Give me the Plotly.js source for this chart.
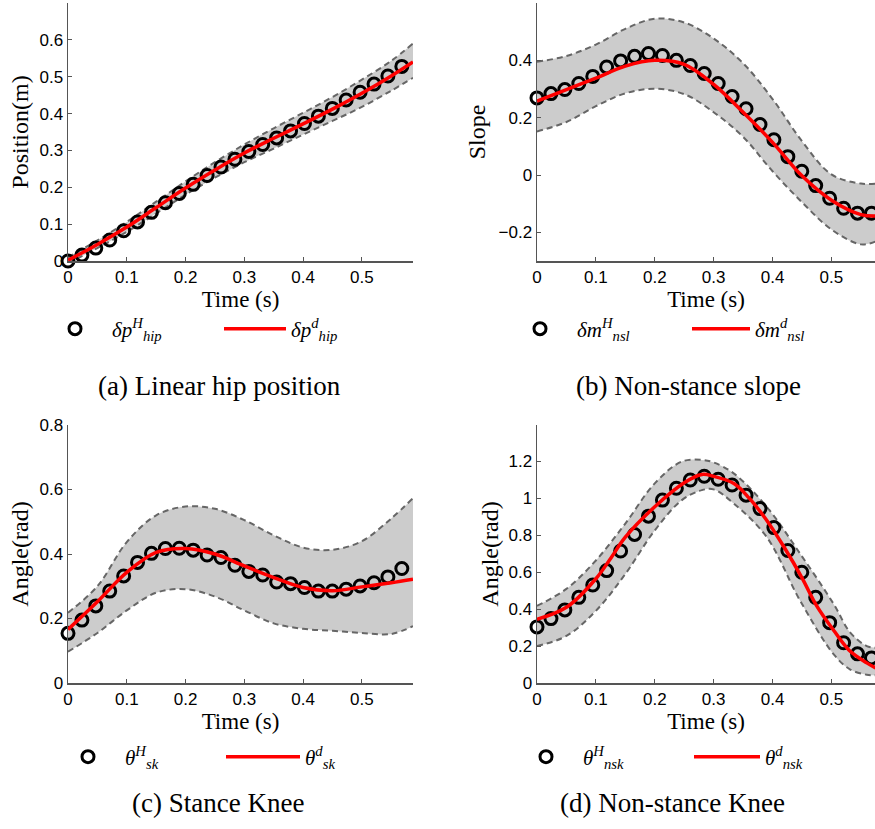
<!DOCTYPE html>
<html>
<head>
<meta charset="utf-8">
<script src="https://cdn.plot.ly/plotly-3.0.1.min.js"></script>
<style>html,body{margin:0;padding:0;background:#fff;}#plot{width:875px;height:829px;}</style>
</head>
<body>
<div id="plot"></div>
<script>
// ---- sample times of the human data (circles) ----
const tH = [0, 0.0237, 0.0473, 0.071, 0.0947, 0.1183, 0.142, 0.1657, 0.1893, 0.213, 0.2367, 0.2603, 0.284,
            0.3077, 0.3313, 0.355, 0.3787, 0.4023, 0.426, 0.4497, 0.4733, 0.497, 0.5207, 0.5443, 0.568];

// ---- (a) Linear hip position ----
const hipH = [0.0, 0.016, 0.035, 0.057, 0.082, 0.106, 0.132, 0.158, 0.183, 0.208, 0.232, 0.255, 0.276,
              0.297, 0.316, 0.334, 0.353, 0.373, 0.393, 0.414, 0.437, 0.458, 0.480, 0.502, 0.528];
const tLineA = [0, 0.05, 0.1, 0.15, 0.2, 0.25, 0.3, 0.35, 0.4, 0.45, 0.5, 0.55, 0.587];
const hipD  = [0.002, 0.045, 0.092, 0.145, 0.198, 0.247, 0.293, 0.333, 0.372, 0.412, 0.455, 0.502, 0.540];
const hipUp = [0.010, 0.056, 0.106, 0.161, 0.216, 0.268, 0.316, 0.360, 0.402, 0.445, 0.492, 0.543, 0.590];
const hipLo = [-0.006, 0.035, 0.079, 0.129, 0.180, 0.226, 0.268, 0.305, 0.343, 0.380, 0.418, 0.462, 0.497];

// ---- (b) Non-stance slope ----
const slopeH = [0.269, 0.284, 0.298, 0.319, 0.344, 0.377, 0.398, 0.414, 0.424, 0.417, 0.400, 0.382, 0.354,
                0.319, 0.274, 0.231, 0.176, 0.123, 0.064, 0.013, -0.037, -0.081, -0.116, -0.133, -0.133];
const tLineB = [0, 0.05, 0.1, 0.15, 0.2, 0.25, 0.3, 0.35, 0.4, 0.45, 0.5, 0.55, 0.575];
const slopeD  = [0.258, 0.298, 0.338, 0.380, 0.400, 0.386, 0.316, 0.219, 0.114, -0.003, -0.088, -0.138, -0.143];
const slopeUp = [0.395, 0.415, 0.455, 0.510, 0.545, 0.532, 0.476, 0.390, 0.265, 0.118, 0.002, -0.030, -0.030];
const slopeLo = [0.152, 0.185, 0.240, 0.285, 0.301, 0.282, 0.219, 0.133, 0.013, -0.095, -0.190, -0.242, -0.232];

// ---- (c) Stance knee ----
const skH = [0.154, 0.195, 0.239, 0.285, 0.332, 0.374, 0.402, 0.417, 0.418, 0.412, 0.397, 0.389, 0.365,
             0.346, 0.335, 0.313, 0.308, 0.296, 0.285, 0.285, 0.291, 0.301, 0.311, 0.329, 0.355];
const tLineC = [0, 0.05, 0.1, 0.15, 0.2, 0.25, 0.3, 0.35, 0.4, 0.45, 0.5, 0.55, 0.587];
const skD  = [0.166, 0.252, 0.343, 0.405, 0.417, 0.400, 0.363, 0.327, 0.296, 0.286, 0.298, 0.311, 0.322];
const skUp = [0.218, 0.300, 0.437, 0.520, 0.547, 0.540, 0.505, 0.458, 0.420, 0.413, 0.440, 0.510, 0.573];
const skLo = [0.097, 0.155, 0.225, 0.280, 0.291, 0.268, 0.225, 0.185, 0.168, 0.162, 0.155, 0.152, 0.176];

// ---- (d) Non-stance knee ----
const nskH = [0.304, 0.349, 0.396, 0.464, 0.531, 0.609, 0.715, 0.805, 0.904, 0.991, 1.055, 1.100, 1.120,
              1.104, 1.073, 1.018, 0.945, 0.842, 0.718, 0.600, 0.464, 0.327, 0.218, 0.158, 0.136];
const tLineD = [0, 0.05, 0.1, 0.125, 0.15, 0.2, 0.25, 0.28, 0.3, 0.335, 0.36, 0.39, 0.42, 0.45, 0.475, 0.505, 0.53, 0.56, 0.575];
const nskD   = [0.345, 0.41, 0.565, 0.675, 0.79, 0.955, 1.085, 1.13, 1.12, 1.08, 1.003, 0.882, 0.734, 0.57, 0.418, 0.28, 0.178, 0.109, 0.082];
const tBandD = [0, 0.05, 0.1, 0.15, 0.2, 0.246, 0.28, 0.3, 0.334, 0.39, 0.447, 0.504, 0.532, 0.56, 0.575];
const nskUp  = [0.418, 0.51, 0.664, 0.864, 1.082, 1.2, 1.209, 1.195, 1.136, 0.955, 0.70, 0.427, 0.273, 0.2, 0.191];
const nskLo  = [0.2, 0.255, 0.391, 0.591, 0.827, 0.991, 1.045, 1.049, 0.973, 0.791, 0.445, 0.155, 0.073, 0.045, 0.042];

// ---- labels ----
const legendNames = [
  ['<i>δp</i><sup><i>H</i></sup><sub><i>hip</i></sub>', '<i>δp</i><sup><i>d</i></sup><sub><i>hip</i></sub>'],
  ['<i>δm</i><sup><i>H</i></sup><sub><i>nsl</i></sub>', '<i>δm</i><sup><i>d</i></sup><sub><i>nsl</i></sub>'],
  ['<i>θ</i><sup><i>H</i></sup><sub><i>sk</i></sub>', '<i>θ</i><sup><i>d</i></sup><sub><i>sk</i></sub>'],
  ['<i>θ</i><sup><i>H</i></sup><sub><i>nsk</i></sub>', '<i>θ</i><sup><i>d</i></sup><sub><i>nsk</i></sub>']
];
const yTitles = ['Position(m)', 'Slope', 'Angle(rad)', 'Angle(rad)'];
const captions = ['(a) Linear hip position', '(b) Non-stance slope', '(c) Stance Knee', '(d) Non-stance Knee'];
const xTitle = 'Time (s)';

const W = 875, H = 829;
const SERIF = 'Liberation Serif';
const SANS = 'Liberation Sans';

const panels = [
  {xa: 'x',  ya: 'y',  tb: tLineA, up: hipUp,   lo: hipLo,   tl: tLineA, d: hipD,   h: hipH},
  {xa: 'x2', ya: 'y2', tb: tLineB, up: slopeUp, lo: slopeLo, tl: tLineB, d: slopeD, h: slopeH},
  {xa: 'x3', ya: 'y3', tb: tLineC, up: skUp,    lo: skLo,    tl: tLineC, d: skD,    h: skH},
  {xa: 'x4', ya: 'y4', tb: tBandD, up: nskUp,   lo: nskLo,   tl: tLineD, d: nskD,   h: nskH}
];

const traces = [];
panels.forEach((p, i) => {
  const dashLine = {color: '#666666', width: 2, dash: '6px,4px', shape: 'spline', smoothing: 1};
  traces.push({x: p.tb, y: p.lo, xaxis: p.xa, yaxis: p.ya, mode: 'lines', line: dashLine,
               showlegend: false, hoverinfo: 'skip'});
  traces.push({x: p.tb, y: p.up, xaxis: p.xa, yaxis: p.ya, mode: 'lines', line: dashLine,
               fill: 'tonexty', fillcolor: '#cccccc', showlegend: false, hoverinfo: 'skip'});
  traces.push({x: tH, y: p.h, xaxis: p.xa, yaxis: p.ya, mode: 'markers', name: legendNames[i][0],
               legend: i === 0 ? 'legend' : 'legend' + (2 * i + 1), cliponaxis: false,
               marker: {symbol: 'circle-open', size: 12, color: '#000000', line: {width: 3, color: '#000000'}}});
  traces.push({x: p.tl, y: p.d, xaxis: p.xa, yaxis: p.ya, mode: 'lines', name: legendNames[i][1],
               legend: 'legend' + (2 * i + 2), line: {color: '#ff0000', width: 3.5, shape: 'spline', smoothing: 1}});
});

function xAxis(domain, range, anchor) {
  return {domain: domain, range: range, anchor: anchor, showline: true, linecolor: '#555555', linewidth: 1.5,
          ticks: 'inside', ticklen: 4, tickcolor: '#555555', tickwidth: 1, showgrid: false, zeroline: false,
          tick0: 0, dtick: 0.1, tickfont: {family: SANS, size: 17, color: '#000'},
          title: {text: xTitle, font: {family: SERIF, size: 23, color: '#000'}, standoff: 1}};
}
function yAxis(domain, range, dtick, anchor, title, standoff) {
  return {domain: domain, range: range, anchor: anchor, showline: true, linecolor: '#555555', linewidth: 1.5,
          ticks: 'inside', ticklen: 4, tickcolor: '#555555', tickwidth: 1, showgrid: false, zeroline: false,
          tick0: 0, dtick: dtick, tickfont: {family: SANS, size: 17, color: '#000'},
          title: {text: title, font: {family: SERIF, size: 24, color: '#000'}, standoff: standoff}};
}

const dL = [68 / W, 413 / W], dR = [537 / W, 1];
const dT = [1 - 261 / H, 1 - 3 / H], dB = [1 - 683 / H, 1 - 425 / H];

// one legend per key: left px, row centre px, symbol width
function legendAt(px, py, iw) {
  return {x: px / W, y: 1 - py / H, xanchor: 'left', yanchor: 'middle', orientation: 'v',
          itemwidth: iw, traceorder: 'normal', bgcolor: 'rgba(0,0,0,0)', borderwidth: 0,
          font: {family: SERIF, size: 21, color: '#000'}, itemclick: false, itemdoubleclick: false};
}

const capPos = [[219, 386], [688, 386], [218, 803], [672, 803]];
const annotations = captions.map((c, i) => ({
  text: c, xref: 'paper', yref: 'paper', x: capPos[i][0] / W, y: 1 - capPos[i][1] / H,
  xanchor: 'center', yanchor: 'middle', showarrow: false, font: {family: SERIF, size: 27, color: '#000'}
}));

const layout = {
  width: W, height: H, margin: {l: 0, r: 0, t: 0, b: 0, autoexpand: false},
  paper_bgcolor: '#ffffff', plot_bgcolor: '#ffffff',
  xaxis:  xAxis(dL, [0, 0.587], 'y'),
  yaxis:  yAxis(dT, [0, 0.7], 0.1, 'x', yTitles[0], 4),
  xaxis2: xAxis(dR, [0, 0.574], 'y2'),
  yaxis2: yAxis(dT, [-0.3, 0.6], 0.2, 'x2', yTitles[1], 6),
  xaxis3: xAxis(dL, [0, 0.587], 'y3'),
  yaxis3: yAxis(dB, [0, 0.8], 0.2, 'x3', yTitles[2], 4),
  xaxis4: xAxis(dR, [0, 0.574], 'y4'),
  yaxis4: yAxis(dB, [0, 1.398], 0.2, 'x4', yTitles[3], 3),
  legend:  legendAt(38, 329, 64),
  legend2: legendAt(219, 329, 62),
  legend3: legendAt(503, 329, 64),
  legend4: legendAt(687, 329, 58),
  legend5: legendAt(51, 757, 64),
  legend6: legendAt(221, 757, 74),
  legend7: legendAt(509, 757, 64),
  legend8: legendAt(689, 757, 66),
  annotations: annotations,
  showlegend: true
};

Plotly.newPlot('plot', traces, layout, {displayModeBar: false, staticPlot: true});
</script>
</body>
</html>
